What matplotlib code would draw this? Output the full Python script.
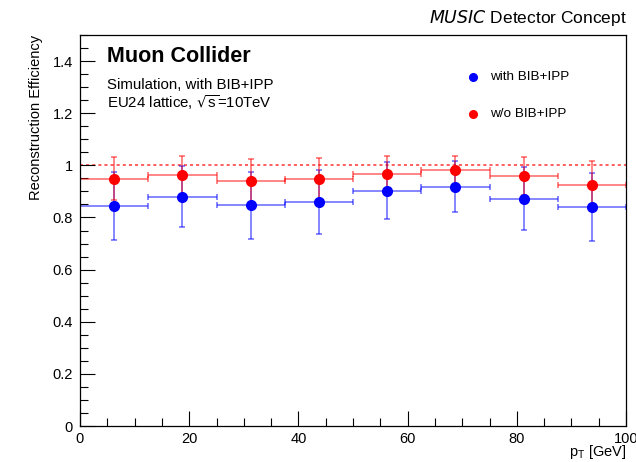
import matplotlib
matplotlib.use("Agg")
import matplotlib.pyplot as plt
from matplotlib.ticker import MultipleLocator
from matplotlib.lines import Line2D
import numpy as np

plt.rcParams['font.family'] = ['Liberation Sans', 'DejaVu Sans']

bin_edges = [0, 12.5, 25, 37.5, 50, 62.5, 75, 87.5, 100]
eff_with = [0.843, 0.880, 0.846, 0.860, 0.903, 0.918, 0.872, 0.840]
err_with = [0.130, 0.118, 0.130, 0.124, 0.108, 0.097, 0.120, 0.132]
eff_wo = [0.949, 0.963, 0.938, 0.946, 0.968, 0.982, 0.959, 0.923]
err_wo = [0.082, 0.073, 0.088, 0.082, 0.068, 0.054, 0.073, 0.095]
label_with = "with BIB+IPP"
label_wo = "w/o BIB+IPP"

edges = np.array(bin_edges)
centers = 0.5 * (edges[:-1] + edges[1:])
halfw = 0.5 * (edges[1:] - edges[:-1])

W, H = 636, 462
fig = plt.figure(figsize=(W / 100, H / 100), dpi=100)
ax = fig.add_axes([80 / W, 1 - 426 / H, 546 / W, 391 / H])

ax.axhline(1.0, color='#ff3333', ls=(0, (2, 2)), lw=1.1, zorder=1)

for eff, err, col in [(eff_with, err_with, '#0000ff'), (eff_wo, err_wo, '#ff0000')]:
    ax.errorbar(centers, eff, xerr=halfw, yerr=err, fmt='none', ecolor=col,
                elinewidth=1.1, capsize=2.5, capthick=1.1, alpha=0.6, zorder=2)
    ax.plot(centers, eff, 'o', color=col, ms=7, zorder=3)

ax.set_xlim(0, 100)
ax.set_ylim(0, 1.5)
ax.xaxis.set_major_locator(MultipleLocator(20))
ax.xaxis.set_minor_locator(MultipleLocator(5))
ax.yaxis.set_major_locator(MultipleLocator(0.2))
ax.yaxis.set_minor_locator(MultipleLocator(0.05))
ax.tick_params(which='both', direction='in', top=False, right=False, labelsize=10.5, width=0.8)
ax.tick_params(which='major', length=11, pad=5)
ax.tick_params(axis='x', which='major', pad=4)
ax.tick_params(which='minor', length=6)
ax.yaxis.set_major_formatter(plt.FuncFormatter(lambda v, p: ('%g' % round(v, 2))))
ax.xaxis.set_major_formatter(plt.FuncFormatter(lambda v, p: ('%g' % v)))
for s in ax.spines.values():
    s.set_linewidth(0.9)

ax.set_ylabel("Reconstruction Efficiency", fontsize=10.5, loc='top', labelpad=7)
fig.text(626 / W, 1 - 461 / H, r"p$_{\mathregular{T}}$ [GeV]", fontsize=10.5,
         ha='right', va='bottom')

ax.text(27 / 546, 1 - (57 - 35) / 391, "Muon Collider", transform=ax.transAxes,
        fontsize=15.5, fontweight='bold', va='center', ha='left')
ax.text(27 / 546, 1 - (85 - 35) / 391, "Simulation, with BIB+IPP", transform=ax.transAxes,
        fontsize=10.8, va='center', ha='left')
ax.text(27 / 546, 1 - (103 - 35) / 391, r"EU24 lattice, $\sqrt{\mathregular{s}}$=10TeV",
        transform=ax.transAxes, fontsize=10.8, va='center', ha='left')

fig.text(627 / W, 1 - 18 / H, r"$\mathit{MUSIC}$ Detector Concept", fontsize=12.5,
         ha='right', va='center')

for yy, col, lab in [(77, '#0000ff', label_with), (114, '#ff0000', label_wo)]:
    fy = 1 - yy / H
    fig.add_artist(Line2D([473 / W], [fy], marker='o', color=col, ms=5.5, transform=fig.transFigure))
    fig.text(490 / W, fy, lab, fontsize=9.7, ha='left', va='center')

fig.savefig("out.png", dpi=100)
